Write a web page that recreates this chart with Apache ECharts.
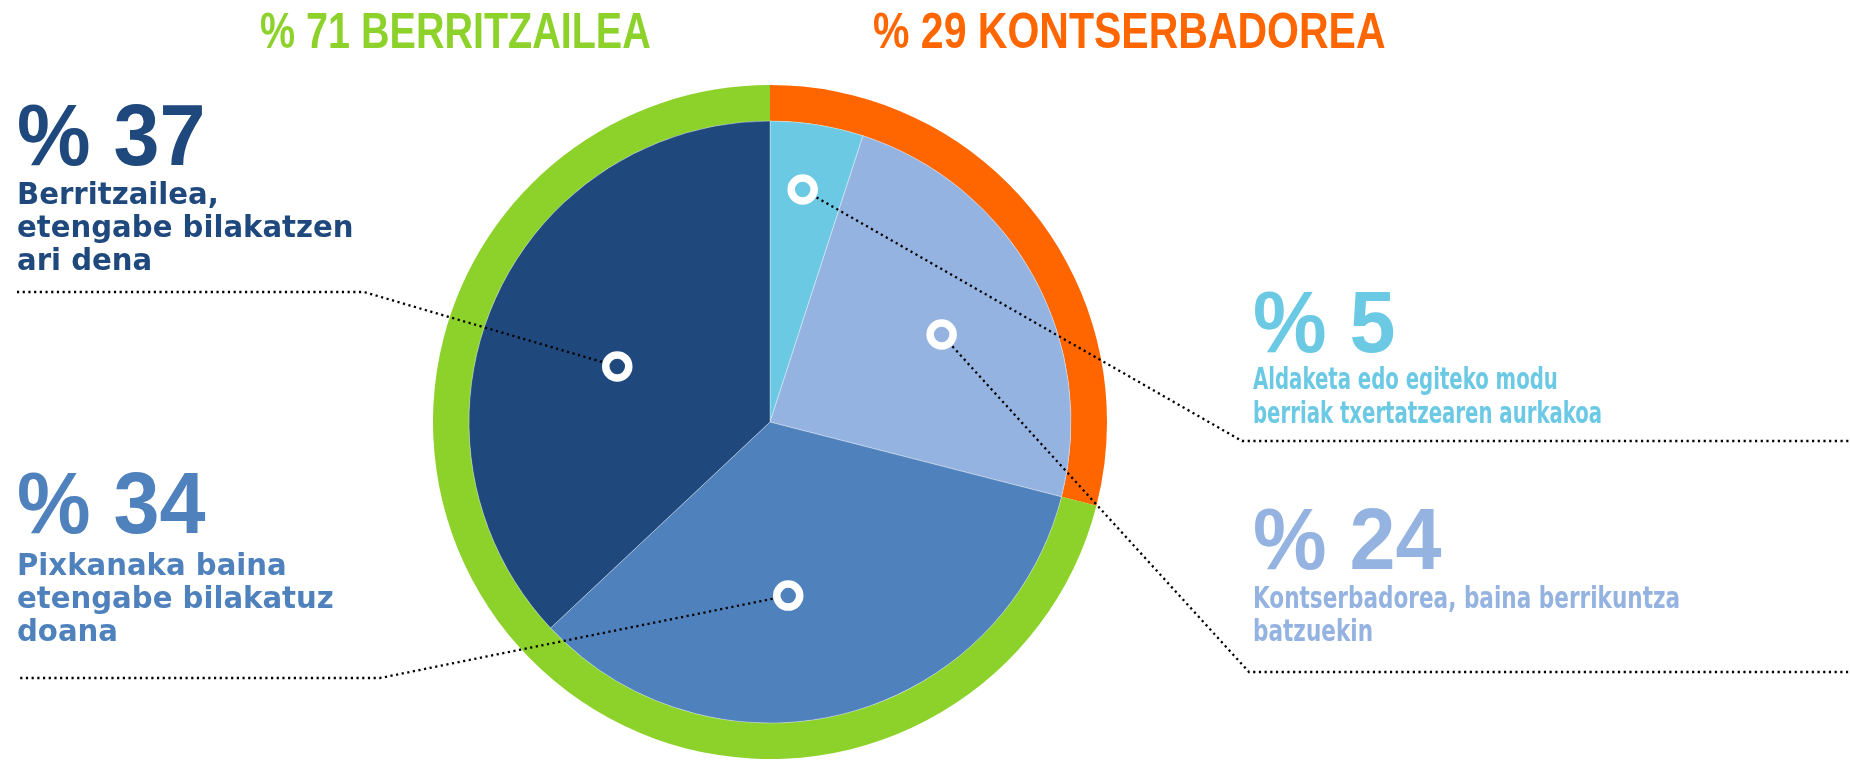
<!DOCTYPE html>
<html>
<head>
<meta charset="utf-8">
<script src="https://cdn.jsdelivr.net/npm/echarts@6/dist/echarts.min.js"></script>
<style>
html, body { margin: 0; padding: 0; background: #fff; }
#chart { width: 1850px; height: 760px; }
</style>
</head>
<body>
<div id="chart"></div>
<script>
// slices, clockwise from 12 o'clock
var names = ['Aldaketa edo egiteko modu\nberriak txertatzearen aurkakoa',
             'Kontserbadorea, baina berrikuntza\nbatzuekin',
             'Pixkanaka baina\netengabe bilakatuz\ndoana',
             'Berritzailea,\netengabe bilakatzen\nari dena'];
var values = [5, 24, 34, 37];
var colors = ['#6CC9E4', '#95B3E0', '#4F81BD', '#1F497D'];

// outer ring, clockwise from 12 o'clock
var groupNames = ['KONTSERBADOREA', 'BERRITZAILEA'];
var groupValues = [29, 71];
var groupColors = ['#FF6600', '#8DD22B'];

// white markers inside the slices: share of radius, degrees from top
var markerR = [0.78, 0.64, 0.58, 0.54];
var markerAngle = [8, 63, 174, 290];

var cx = 770, cy = 422, rIn = 301, rOut = 337;
var descFont = '"DejaVu Sans Condensed", "DejaVu Sans", sans-serif';
var bigFont = '"Liberation Sans", Arial, sans-serif';

var myChart = echarts.init(document.getElementById('chart'));

option = {
    animation: false,
    polar: { center: [cx, cy], radius: rIn },
    angleAxis: { type: 'value', min: 0, max: 360, startAngle: 90, clockwise: true, show: false },
    radiusAxis: { type: 'value', min: 0, max: 1, show: false },
    series: [{
        type: 'pie',
        center: [cx, cy],
        radius: [rIn, rOut],
        startAngle: 90,
        silent: true,
        label: { show: false },
        labelLine: { show: false },
        data: groupValues.map(function (v, i) {
            return { value: v, name: groupNames[i], itemStyle: { color: groupColors[i] } };
        })
    }, {
        type: 'pie',
        center: [cx, cy],
        radius: [0, rIn],
        startAngle: 90,
        silent: true,
        label: { show: false },
        labelLine: { show: false },
        itemStyle: { borderColor: 'rgba(255,255,255,0.35)', borderWidth: 1 },
        data: values.map(function (v, i) {
            return { value: v, name: names[i], itemStyle: { color: colors[i] } };
        })
    }, {
        type: 'scatter',
        coordinateSystem: 'polar',
        silent: true,
        z: 20,
        symbol: 'circle',
        symbolSize: 23,
        itemStyle: { color: 'rgba(0,0,0,0)', borderColor: '#fff', borderWidth: 7.5, opacity: 1 },
        data: markerR.map(function (r, i) { return [r, markerAngle[i]]; })
    }]
};
myChart.setOption(option);

// leader lines: marker -> bend -> horizontal rule under the text
var bends = [[1242, 441], [1249, 672], [380, 678], [364, 292]];
var ends = [[1850, 441], [1850, 672], [17, 678], [17, 292]];
// text blocks: x, baseline of big number, top of description, line height, horizontal squeeze
var blocks = [
    { x: 1253, num: 358, desc: 364, lh: 34, sx: 0.73 },
    { x: 1253, num: 575, desc: 584, lh: 33, sx: 0.80 },
    { x: 17, num: 539, desc: 551, lh: 33, sx: 1.08 },
    { x: 17, num: 171, desc: 180, lh: 33, sx: 1.08 }
];

var graphics = [];
values.forEach(function (v, i) {
    var p = myChart.convertToPixel({ seriesIndex: 2 }, [markerR[i], markerAngle[i]]);
    var b = bends[i];
    var dx = b[0] - p[0], dy = b[1] - p[1], len = Math.sqrt(dx * dx + dy * dy);
    var start = [p[0] + dx / len * 16, p[1] + dy / len * 16];
    graphics.push({
        type: 'polyline', z: 10, silent: true,
        shape: { points: [start, b, ends[i]] },
        style: { stroke: '#000', lineWidth: 2.3, lineDash: [2.2, 3.5], fill: null }
    });
    var bl = blocks[i];
    graphics.push({
        type: 'text', z: 10, silent: true,
        x: bl.x, y: bl.num - 0.346 * 88, scaleX: 0.94,
        style: {
            text: '% ' + v, fill: colors[i], fontFamily: bigFont, fontWeight: 'bold',
            fontSize: 88, verticalAlign: 'middle', align: 'left'
        }
    });
    graphics.push({
        type: 'text', z: 10, silent: true,
        x: bl.x, y: bl.desc, scaleX: bl.sx,
        style: {
            text: names[i], fill: colors[i], fontFamily: descFont, fontWeight: 'bold',
            fontSize: 30, lineHeight: bl.lh, verticalAlign: 'top', align: 'left'
        }
    });
});

// group titles over the ring
var titleX = [873, 260];
var titleSx = [0.82, 0.79];
groupValues.forEach(function (v, i) {
    graphics.push({
        type: 'text', z: 10, silent: true,
        x: titleX[i], y: 52 - 0.346 * 50, scaleX: titleSx[i],
        style: {
            text: '% ' + v + ' ' + groupNames[i], fill: groupColors[i], fontFamily: bigFont,
            fontWeight: 'bold', fontSize: 50, verticalAlign: 'middle', align: 'left'
        }
    });
});

myChart.setOption({ graphic: graphics });
</script>
</body>
</html>
